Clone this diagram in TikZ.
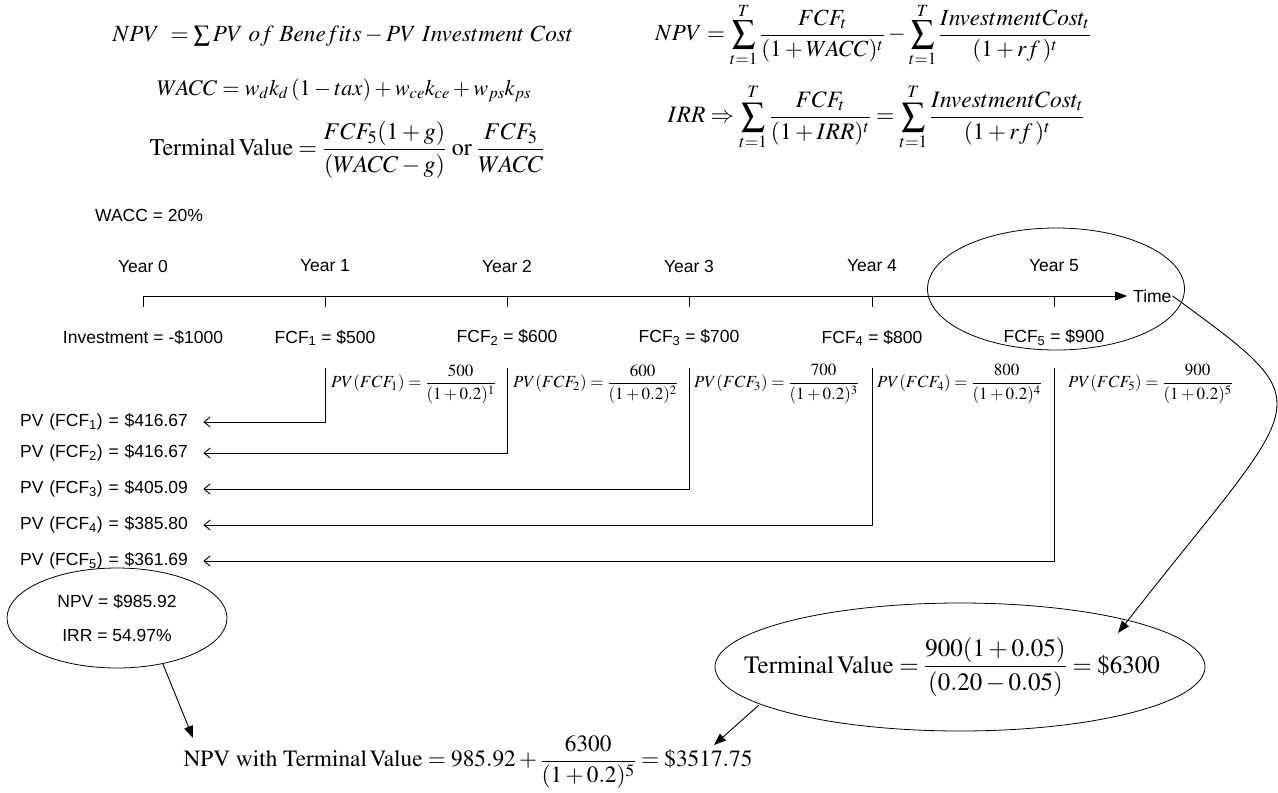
\documentclass[tikz,border=0pt]{standalone}
\usepackage{amsmath}
\usepackage{mathptmx}
\usepackage{fontspec}
\setmainfont{Liberation Serif}
\setsansfont{Liberation Sans}
\usetikzlibrary{arrows.meta,shapes.geometric}
\newcommand{\fsz}[1]{\fontsize{#1}{#1}\selectfont}
\begin{document}
\begin{tikzpicture}[x=1pt,y=-1pt,
  sf/.style={font=\sffamily\fontsize{17.5}{20}\selectfont, inner sep=1pt},
  big/.style={inner sep=0pt},
  pvf/.style={font=\fsz{17}, inner sep=0pt},
  ln/.style={line width=0.9pt},
  tri/.style={ln,-{Triangle[length=12pt,width=9pt]}},
  pvarr/.style={ln,-{Straight Barb[length=6pt,width=10pt]}},
  oval/.style={draw, ellipse, line width=0.8pt, inner sep=0pt}]
\useasboundingbox (0,0) rectangle (1278,793);

% top formulas
\node[big, font=\fsz{23.2}] (f1) at (343,36) {$NPV\ =\sum PV\ of\ Benefits-PV\ Investment\ Cost$};
\node[big, font=\fsz{22.3}] (f2) at (344,90) {$WACC=w_dk_d\,(1-tax)+w_{ce}k_{ce}+w_{ps}k_{ps}$};
\node[big, font=\fsz{24}] (f3) at (347,150) {$\mathrm{Terminal\,Value}=\dfrac{FCF_5(1+g)}{(WACC-g)}\;\mathrm{or}\;\dfrac{FCF_5}{WACC}$};
\node[big, font=\fsz{23.1}] (f4) at (873,35) {$NPV=\displaystyle\sum_{t=1}^{T}\frac{FCF_t}{(1+WACC)^t}-\sum_{t=1}^{T}\frac{InvestmentCost_t}{(1+rf\,)^t}$};
\node[big, font=\fsz{23.5}] (f5) at (876,117) {$IRR\Rightarrow\displaystyle\sum_{t=1}^{T}\frac{FCF_t}{(1+IRR)^t}=\sum_{t=1}^{T}\frac{InvestmentCost_t}{(1+rf\,)^t}$};

\node[sf, anchor=west] (wacc) at (94,215) {WACC = 20\%};

% timeline
\foreach \i/\x in {0/143,1/325,2/507,3/689,4/872,5/1054}{
  \node[sf] (y\i) at (\x,266) {Year \i};
  \coordinate (k\i) at (\x,296);
  \draw[ln] (k\i) -- (\x,307);
}
\node[sf, anchor=west] (time) at (1132,296) {Time};
\draw[tri] (k0) -- ([xshift=-5pt]time.west);
\node[oval, minimum width=257, minimum height=122] (yr5) at (1056,289) {};

\node[sf] (c0) at (143,338) {Investment = -\$1000};
\foreach \i/\x/\v in {1/325/500,2/507/600,3/689/700,4/872/800,5/1054/900}{
  \node[sf] (c\i) at (\x,338) {FCF\textsubscript{\i} = \$\v};
}

% PV formulas
\foreach \i/\x/\v in {1/331/500,2/513/600,3/694/700,4/877/800,5/1068/900}{
  \node[pvf, anchor=west] (pf\i) at (\x,384) {$PV(FCF_{\i})=\dfrac{\v}{(1+0.2)^{\i}}$};
}

% PV labels
\foreach \i/\y/\v in {1/422/416.67,2/453/416.67,3/489/405.09,4/525/385.80,5/561/361.69}{
  \node[sf, anchor=west, text width=181pt, align=left, inner sep=2pt] (p\i) at (18,\y) {PV (FCF\textsubscript{\i}) = \$\v};
}
\foreach \i/\x in {1/325,2/507,3/689,4/872,5/1054}{
  \coordinate (v\i) at (\x,368);
  \draw[pvarr] (v\i) |- (p\i.east);
}

% NPV / IRR ellipse
\node[oval, sf, align=center, minimum width=220, minimum height=100] (npv) at (117,618)
  {NPV = \$985.92\\[14pt] IRR = 54.97\%};

% terminal value ellipse
\node[oval, minimum width=490, minimum height=128] (tv) at (960,667) {};
\node[big, font=\fsz{25}] (tvtext) at (952,667)
  {$\mathrm{Terminal\,Value}=\dfrac{900(1+0.05)}{(0.20-0.05)}=\$6300$};

% bottom formula
\node[big, font=\fsz{23.3}] (bot) at (468,762) {$\mathrm{NPV\ with\ Terminal\,Value}=985.92+\dfrac{6300}{(1+0.2)^5}=\$3517.75$};

\coordinate (tvin) at (1118,633);
\coordinate (tvout) at (759,705);
\coordinate (botr) at (714,745);
\coordinate (botl) at (193,738);
\draw[tri] (time.east) .. controls (1328,410) and (1308,390) .. (tvin);
\draw[tri] (tvout) -- (botr);
\draw[tri] (npv.-45) -- (botl);
\end{tikzpicture}
\end{document}
